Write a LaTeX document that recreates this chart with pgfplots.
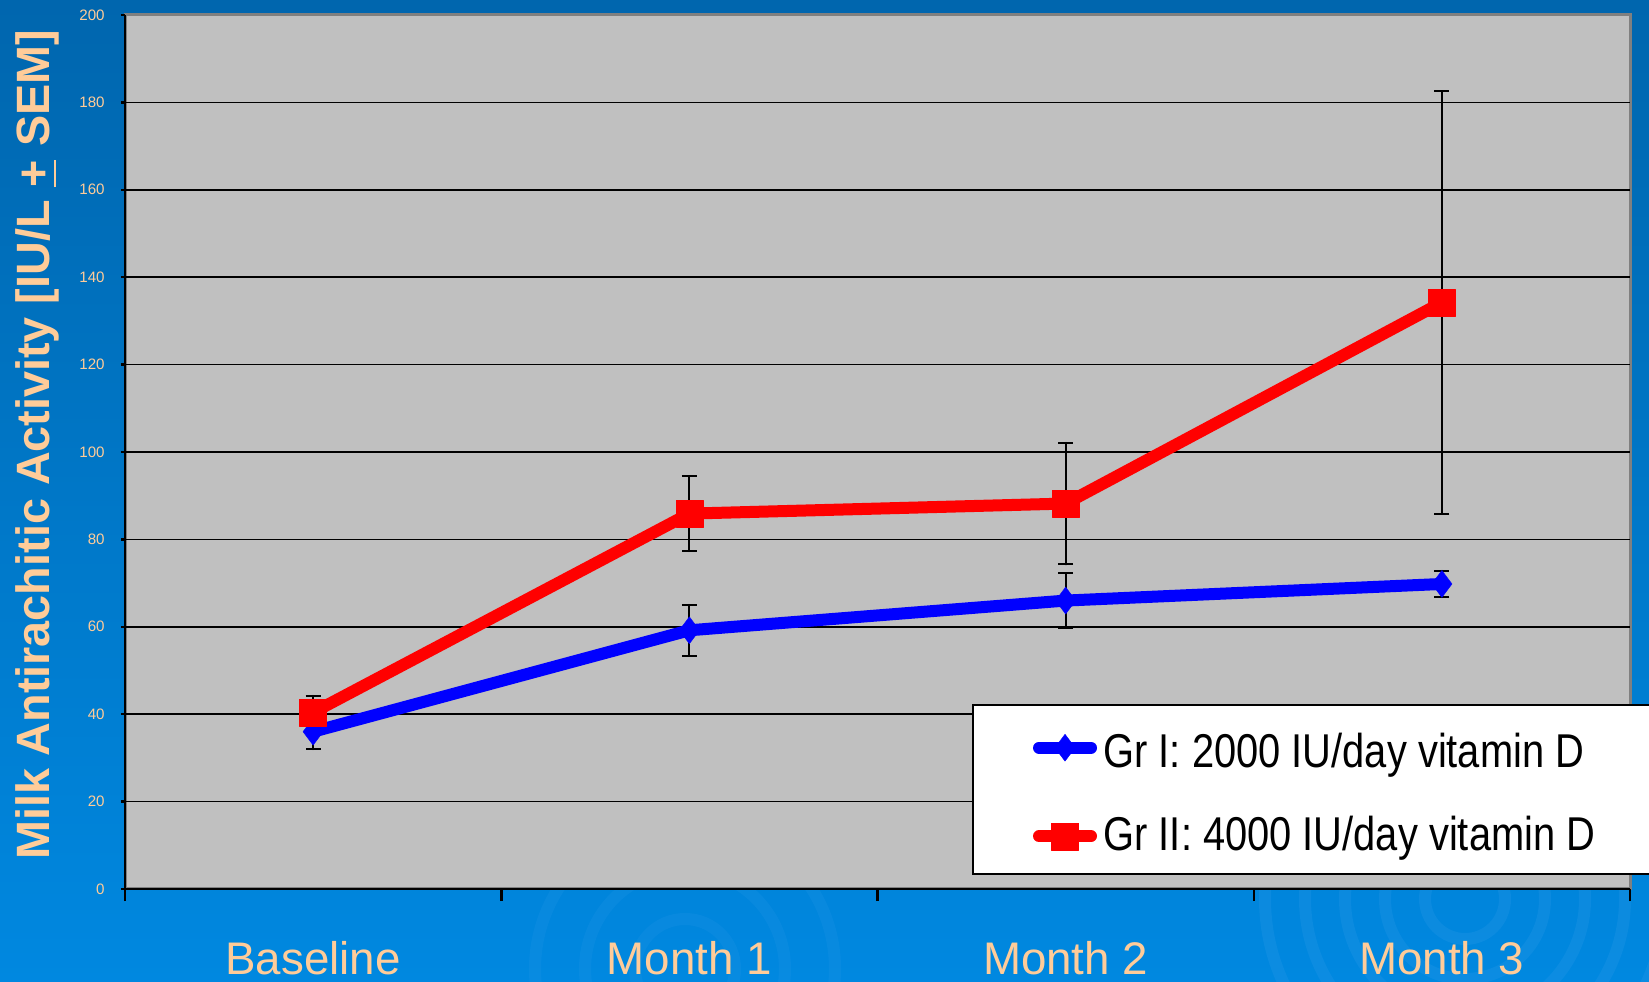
\documentclass[border=0pt]{standalone}
\usepackage{fontspec}
\setmainfont{Liberation Sans}
\newfontfamily\narrowfont[FakeStretch=0.84]{Liberation Sans}
\usepackage{pgfplots}
\usepackage{pgfplotstable}
\pgfplotsset{compat=1.18}

\definecolor{peach}{RGB}{255,204,153}
\definecolor{plotgray}{RGB}{192,192,192}
\definecolor{bgtop}{RGB}{0,102,174}
\definecolor{bgbot}{RGB}{0,136,224}
\definecolor{ripple}{RGB}{60,160,235}

% mean and SEM
\pgfplotstableread{
x y err
0 36.0 4.0
1 59.2 5.8
2 66.0 6.2
3 69.8 3.0
}\grone
\pgfplotstableread{
x y err
0 40.4 3.8
1 85.9 8.6
2 88.2 13.9
3 134.2 48.3
}\grtwo

\begin{document}
\begin{tikzpicture}
\clip (-12.5mm,-9.3mm) rectangle (152.4mm,88.9mm);
\shade[top color=bgtop, bottom color=bgbot] (-12.5mm,-9.3mm) rectangle (152.4mm,88.9mm);
% faint ripples in the background
\foreach \r in {4,8,12,16,20}
  \draw[ripple, opacity=0.2, line width=1.2mm] (134mm,-1mm) circle (\r mm);
\foreach \r in {5,10,15}
  \draw[ripple, opacity=0.15, line width=1.2mm] (56mm,-8mm) circle (\r mm);

\begin{axis}[
  at={(0,0)}, anchor=south west,
  width=150.5mm, height=87.4mm, scale only axis,
  xmin=-0.5, xmax=3.5, ymin=0, ymax=200,
  axis background/.style={fill=plotgray, draw=gray, line width=0.3mm},
  axis lines*=left,
  axis line style={-, black, line width=0.25mm},
  tick align=outside,
  major tick length=0.4mm,
  minor tick length=1.2mm,
  xtick={0,1,2,3},
  xticklabels={Baseline, Month 1, Month 2, Month 3},
  minor xtick={-0.5,0.5,1.5,2.5,3.5},
  major x tick style={draw=none},
  minor x tick style={black, line width=0.25mm},
  ytick={0,20,...,180},
  extra y ticks={200},
  extra y tick style={grid=none},
  y tick style={black, line width=0.25mm},
  ymajorgrids,
  grid style={black, line width=0.17mm},
  /pgf/number format/assume math mode=true,
  yticklabel style={font=\fontsize{4.3}{5}\selectfont, text=peach, xshift=-0.4mm},
  xticklabel style={font=\fontsize{13}{15}\selectfont, text=peach, anchor=base, yshift=-8.2mm},
  ylabel={Milk Antirachitic Activity [IU/L \underline{+} SEM]},
  ylabel style={at={(axis description cs:0,0.5)}, anchor=base, xshift=0.7mm, yshift=7.5mm,
    font=\fontsize{13.3}{16}\selectfont\bfseries, text=peach},
  legend cell align=left,
  legend image code/.code={\draw[mark repeat=2,mark phase=2,#1] plot coordinates {(0mm,0mm) (2.6mm,0mm) (5.2mm,0mm)};},
  legend style={at={(0.5628,0.0160)}, anchor=south west, draw=black, line width=0.2mm, fill=white,
    inner xsep=6.0mm, inner ysep=1.3mm, row sep=3.4mm, text=black,
    font=\narrowfont\fontsize{13.5}{16}\selectfont,
    nodes={inner xsep=0.1mm, inner ysep=0.5mm}},
]
\addplot[blue, line width=1.2mm, line cap=round, line join=round,
  mark=diamond*, mark size=1.35mm, mark options={solid, fill=blue, draw=blue, line width=0.1pt},
  error bars/.cd, y dir=both, y explicit,
  error bar style={black, line width=0.2mm},
  error mark options={rotate=90, black, mark size=0.75mm, line width=0.2mm}]
  table[x=x, y=y, y error=err] {\grone};
\addlegendentry{\makebox[60mm][l]{\rule{0pt}{4.4mm}\hspace*{0.55mm}Gr I: 2000 IU/day vitamin D}}
\addplot[red, line width=1.2mm, line cap=round, line join=round,
  mark=square*, mark size=1.35mm, mark options={solid, fill=red, draw=red, line width=0.1pt},
  error bars/.cd, y dir=both, y explicit,
  error bar style={black, line width=0.2mm},
  error mark options={rotate=90, black, mark size=0.75mm, line width=0.2mm}]
  table[x=x, y=y, y error=err] {\grtwo};
\addlegendentry{\makebox[60mm][l]{\hspace*{0.55mm}Gr II:\ 4000 IU/day vitamin D}}
\end{axis}
\end{tikzpicture}
\end{document}
